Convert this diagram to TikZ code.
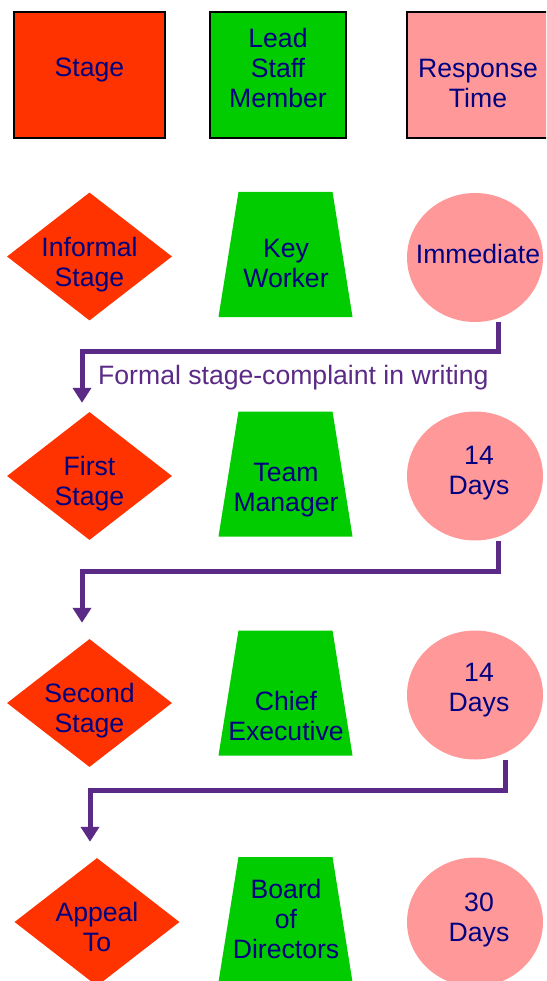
\documentclass[tikz,border=0pt]{standalone}
\usepackage{fontspec}
\setmainfont{Liberation Sans}
\usetikzlibrary{shapes.geometric, arrows.meta}
\definecolor{stagered}{HTML}{FF3300}
\definecolor{staffgreen}{HTML}{00CC00}
\definecolor{timepink}{HTML}{FF9999}
\definecolor{textnavy}{HTML}{000080}
\definecolor{linepurple}{HTML}{5B2A86}
\tikzset{
txt/.style={text=textnavy, align=center, font=\fontsize{26.6}{30}\selectfont, inner sep=0pt},
keybox/.style={draw=black, line width=1.3pt, minimum width=#1, minimum height=126pt, inner sep=0pt},
stagediam/.style={diamond, fill=stagered, minimum width=165pt, minimum height=128pt, inner sep=0pt},
stafftrap/.style={trapezium, trapezium left angle=78, trapezium right angle=78, trapezium stretches=true, fill=staffgreen, minimum width=134pt, minimum height=125pt, inner sep=1pt},
timecirc/.style={ellipse, fill=timepink, minimum width=136pt, minimum height=129pt, inner sep=0pt},
flow/.style={draw=linepurple, line width=5pt, -{Triangle[width=18pt,length=15pt]}}
}

\begin{document}
\begin{tikzpicture}[x=1pt, y=-1pt]
\clip (0,0) rectangle (546,981);
\node[keybox=151pt, fill=stagered] (hdstage) at (89.5,75) {};
\node[keybox=136pt, fill=staffgreen] (hdstaff) at (278,75) {};
\node[keybox=151pt, fill=timepink] (hdtime) at (482.5,75) {};
\node[txt] (hdstageT) at (89.5,69.5) {Stage};
\node[txt] (hdstaffT) at (278,68) {Lead\\Staff\\Member};
\node[txt] (hdtimeT) at (478,83) {Response\\Time};

\node[stagediam] (informal) at (89.5,256.5) {};
\node[stafftrap] (keyw) at (285.5,254.5) {};
\node[timecirc] (imm) at (475,257.5) {};
\node[txt] (informalT) at (89.5,264.5) {Informal\\Stage};
\node[txt] (keywT) at (286,263) {Key\\Worker};
\node[txt] (immT) at (478,254) {Immediate};

\node[stagediam] (first) at (89.5,476) {};
\node[stafftrap] (team) at (285.5,474) {};
\node[timecirc] (days1) at (475,476) {};
\node[txt] (firstT) at (89.5,483.5) {First\\Stage};
\node[txt] (teamT) at (286,490.5) {Team\\Manager};
\node[txt] (days1T) at (479,473.5) {14\\Days};

\node[stagediam] (second) at (89.5,703) {};
\node[stafftrap] (chief) at (285.5,693) {};
\node[timecirc] (days2) at (475,695) {};
\node[txt] (secondT) at (89.5,710.5) {Second\\Stage};
\node[txt] (chiefT) at (286,716) {Chief\\Executive};
\node[txt] (days2T) at (479,690.5) {14\\Days};

\node[stagediam] (appeal) at (97,922) {};
\node[stafftrap] (board) at (285.5,919.5) {};
\node[timecirc] (days3) at (475,922) {};
\node[txt] (appealT) at (97,927) {Appeal\\To};
\node[txt] (boardT) at (286,919) {Board\\of\\Directors};
\node[txt] (days3T) at (479,919.5) {30\\Days};

\draw[flow] ([xshift=23pt]imm.south) -- ++(0,29) -| ([xshift=-7.5pt,yshift=9pt]first.north);
\node[txt, text=linepurple, anchor=west] (formalT) at (98,378) {Formal stage-complaint in writing};
\draw[flow] ([xshift=23pt]days1.south) -- ++(0,31) -| ([xshift=-7.5pt,yshift=16pt]second.north);
\draw[flow] ([xshift=30pt]days2.south) -- ++(0,31) -| ([xshift=-7pt,yshift=16pt]appeal.north);
\end{tikzpicture}
\end{document}
